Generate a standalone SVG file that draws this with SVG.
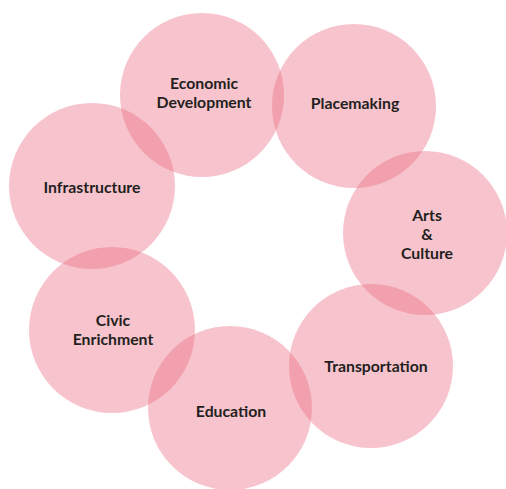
<svg xmlns="http://www.w3.org/2000/svg" width="506" height="489" viewBox="0 0 506 489">
<style>
.c{fill:#eb687f;fill-opacity:0.39;}
.t{font-family:Lato,"Liberation Sans",sans-serif;font-weight:bold;font-size:15.8px;fill:#231f20;text-anchor:middle;}
</style>
<rect width="506" height="489" fill="#ffffff"/>
<g id="connectors"></g>
<g id="economic-development"><circle class="c" cx="202" cy="95" r="82"/><text class="t" x="204" y="89">Economic</text><text class="t" x="204" y="108">Development</text></g>
<g id="placemaking"><circle class="c" cx="354" cy="106" r="82"/><text class="t" x="355" y="109">Placemaking</text></g>
<g id="arts-culture"><circle class="c" cx="425" cy="233" r="82"/><text class="t" x="427" y="221">Arts</text><text class="t" x="427" y="240">&amp;</text><text class="t" x="427" y="259">Culture</text></g>
<g id="transportation"><circle class="c" cx="371" cy="366" r="82"/><text class="t" x="376" y="372">Transportation</text></g>
<g id="education"><circle class="c" cx="230" cy="408" r="82"/><text class="t" x="231" y="417">Education</text></g>
<g id="civic-enrichment"><circle class="c" cx="112" cy="330" r="83"/><text class="t" x="113" y="326">Civic</text><text class="t" x="113" y="345">Enrichment</text></g>
<g id="infrastructure"><circle class="c" cx="92" cy="186" r="83"/><text class="t" x="92" y="193">Infrastructure</text></g>
</svg>
